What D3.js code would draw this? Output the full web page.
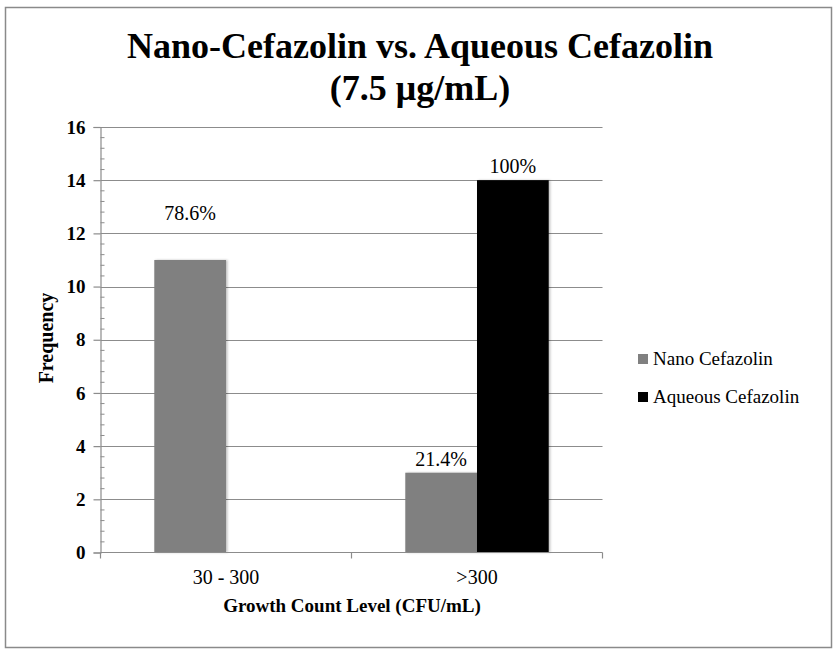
<!DOCTYPE html>
<html><head><meta charset="utf-8">
<script src="https://cdn.jsdelivr.net/npm/d3@7"></script>
<style>body{margin:0;background:#fff}svg{display:block}</style>
</head><body>
<script>
const categories = ["30 - 300", ">300"];
const seriesNames = ["Nano Cefazolin", "Aqueous Cefazolin"];
const nanoValues = [11, 3];
const aqueousValues = [0, 14];
const nanoLabels = ["78.6%", "21.4%"];
const aqueousLabels = [null, "100%"];
const yTicks = [0, 2, 4, 6, 8, 10, 12, 14, 16];
const colors = ["#808080", "#000000"];

const W = 840, H = 654;
const svg = d3.select("body").append("svg").attr("width", W).attr("height", H);
const font = "'Liberation Serif', 'DejaVu Serif', serif";

const defs = svg.append("defs");
const f = defs.append("filter").attr("id","sh").attr("x","-10%").attr("y","-10%").attr("width","130%").attr("height","130%");
f.append("feDropShadow").attr("dx",1.5).attr("dy",0).attr("stdDeviation",1.2).attr("flood-color","#000").attr("flood-opacity",0.25);

svg.append("rect").attr("x",5.5).attr("y",7.5).attr("width",826).attr("height",640)
  .attr("fill","#fff").attr("stroke","#8a8a8a").attr("stroke-width",1.5);

const m = {l:100.5, r:602.5, t:127, b:552.5};
const x0 = d3.scaleBand().domain(categories).range([m.l, m.r]).paddingInner(0.4286).paddingOuter(0.2143);
const band = d3.scaleBand().domain(categories).range([m.l, m.r]);
const x1 = d3.scaleBand().domain(seriesNames).range([0, x0.bandwidth()]);
const y = d3.scaleLinear().domain([0, 16]).range([m.b, m.t]);

// gridlines
svg.append("g").selectAll("line").data(yTicks.filter(d=>d>0)).join("line")
  .attr("x1", m.l).attr("x2", m.r).attr("y1", d=>Math.round(y(d))+0.5).attr("y2", d=>Math.round(y(d))+0.5)
  .attr("stroke","#8c8c8c").attr("stroke-width",1.2);

// minor ticks
const minor = d3.range(0, 16.01, 0.4).filter(v => Math.abs(v/2 - Math.round(v/2)) > 0.01);
svg.append("g").selectAll("line").data(minor).join("line")
  .attr("x1", m.l).attr("x2", m.l+4).attr("y1", d=>y(d)).attr("y2", d=>y(d))
  .attr("stroke","#8c8c8c").attr("stroke-width",1);

// y axis
const yAxis = d3.axisLeft(y).tickValues(yTicks).tickSize(7).tickPadding(8);
const ya = svg.append("g").attr("transform",`translate(${m.l},0)`).call(yAxis);
ya.select(".domain").attr("stroke","#8c8c8c").attr("stroke-width",1.2);
ya.selectAll(".tick line").attr("stroke","#8c8c8c").attr("stroke-width",1.2);
ya.selectAll(".tick text").attr("font-family",font).attr("font-weight","bold").attr("font-size",19).attr("fill","#000");

// bars
const data = categories.map((c,i)=>({cat:c, vals:[
  {s:seriesNames[0], v:nanoValues[i], label:nanoLabels[i], c:colors[0]},
  {s:seriesNames[1], v:aqueousValues[i], label:aqueousLabels[i], c:colors[1]}]}));
const g = svg.append("g");
data.forEach(d=>{
  d.vals.forEach(b=>{
    if (b.v > 0) g.append("rect").attr("x", x0(d.cat)+x1(b.s)).attr("width", x1.bandwidth())
      .attr("y", y(b.v)).attr("height", y(0)-y(b.v)).attr("fill", b.c).attr("filter","url(#sh)");
  });
});

// x axis
const xAxis = d3.axisBottom(band).tickSize(0).tickPadding(17);
const xa = svg.append("g").attr("transform",`translate(0,${m.b})`).call(xAxis);
xa.select(".domain").remove();
svg.append("line").attr("x1",m.l).attr("x2",m.r).attr("y1",m.b).attr("y2",m.b).attr("stroke","#8c8c8c").attr("stroke-width",1.2);
svg.append("g").selectAll("line").data([m.l, (m.l+m.r)/2, m.r]).join("line")
  .attr("x1",d=>d).attr("x2",d=>d).attr("y1",m.b).attr("y2",m.b+6).attr("stroke","#8c8c8c").attr("stroke-width",1.2);
xa.selectAll(".tick text").attr("font-family",font).attr("font-size",20).attr("fill","#000");

// data labels
const lift = {"78.6%": 1.25};
data.forEach(d=>{
  d.vals.forEach(b=>{
    if (!b.label) return;
    svg.append("text").attr("x", x0(d.cat)+x1(b.s)+x1.bandwidth()/2)
      .attr("y", y(b.v + (lift[b.label]||0)) - 7)
      .attr("text-anchor","middle").attr("font-family",font).attr("font-size",20).text(b.label);
  });
});

// titles
svg.append("text").attr("x",420).attr("y",58).attr("text-anchor","middle")
  .attr("font-family",font).attr("font-weight","bold").attr("font-size",36).text("Nano-Cefazolin vs. Aqueous Cefazolin");
svg.append("text").attr("x",420).attr("y",100).attr("text-anchor","middle")
  .attr("font-family",font).attr("font-weight","bold").attr("font-size",36).text("(7.5 μg/mL)");
svg.append("text").attr("x",352).attr("y",612).attr("text-anchor","middle")
  .attr("font-family",font).attr("font-weight","bold").attr("font-size",19).text("Growth Count Level (CFU/mL)");
svg.append("text").attr("transform","translate(53,338) rotate(-90)").attr("text-anchor","middle")
  .attr("font-family",font).attr("font-weight","bold").attr("font-size",20).text("Frequency");

// legend
const lg = svg.append("g").attr("transform","translate(638,354)");
seriesNames.forEach((s,i)=>{
  lg.append("rect").attr("x",0).attr("y",i*38).attr("width",10).attr("height",10).attr("fill",colors[i]);
  lg.append("text").attr("x",15).attr("y",i*38+11).attr("font-family",font).attr("font-size",19).text(s);
});
</script>
</body></html>
